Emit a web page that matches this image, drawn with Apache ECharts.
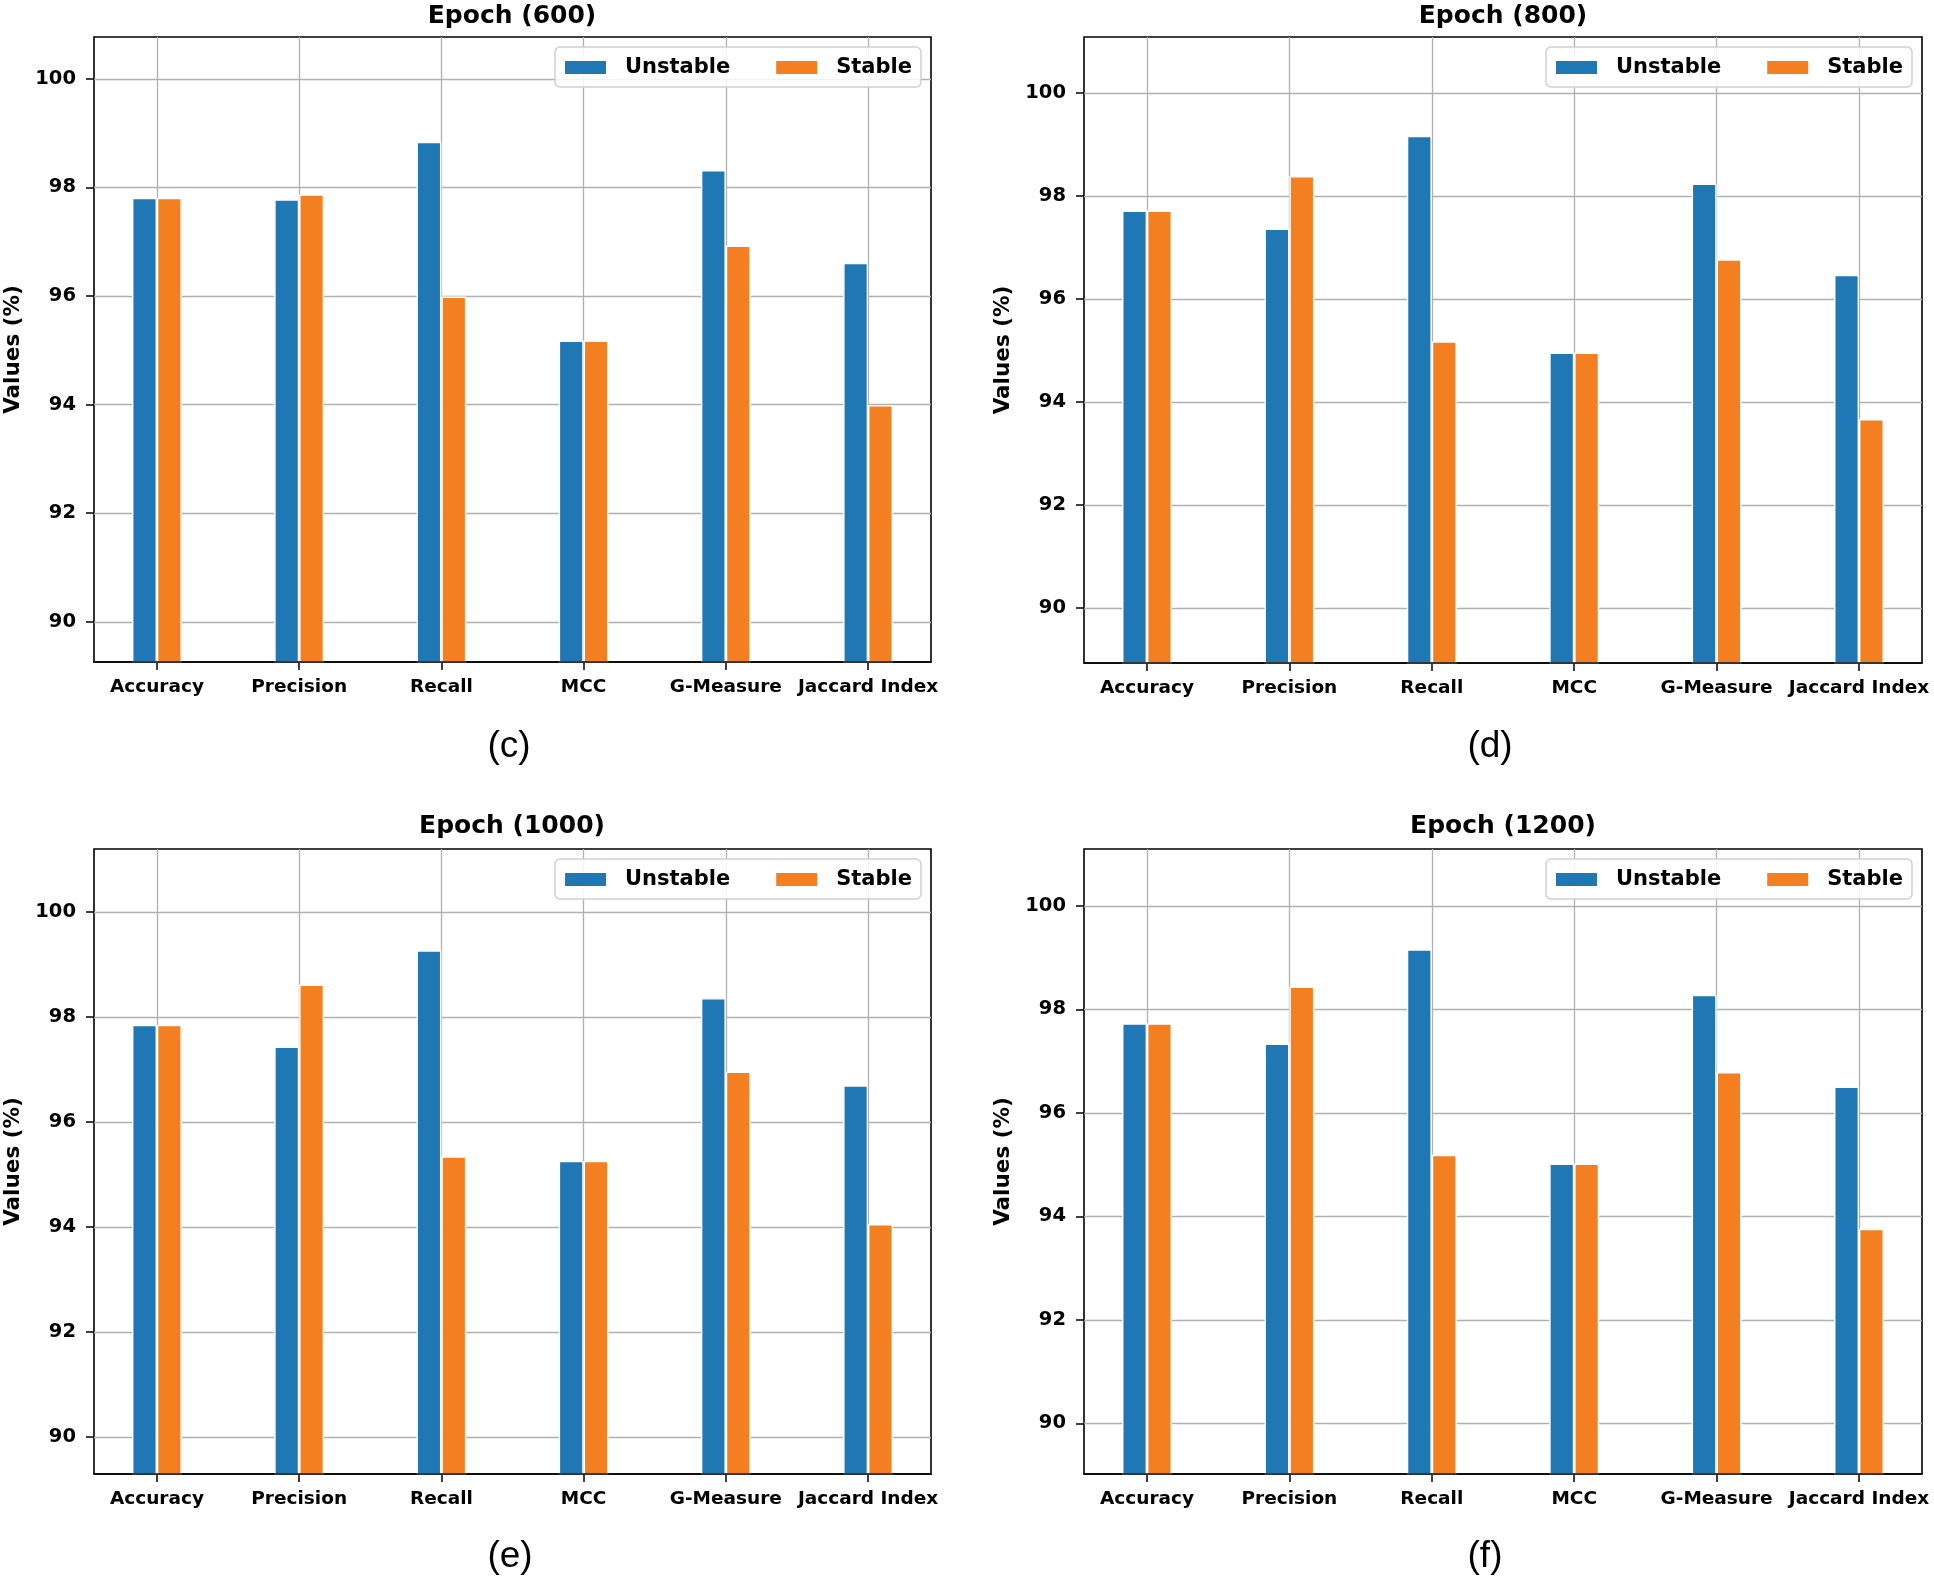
<!DOCTYPE html>
<html>
<head>
<meta charset="utf-8">
<script src="https://cdn.jsdelivr.net/npm/echarts@6/dist/echarts.min.js"></script>
<style>
html,body{margin:0;padding:0;background:#fff}
#c{width:1934px;height:1583px}
</style>
</head>
<body>
<div id="c"></div>
<script>
// ---------- data ----------
const categories = ['Accuracy', 'Precision', 'Recall', 'MCC', 'G-Measure', 'Jaccard Index'];
const seriesNames = ['Unstable', 'Stable'];
const panelTitles = ['Epoch (600)', 'Epoch (800)', 'Epoch (1000)', 'Epoch (1200)'];
const panelLetters = ['(c)', '(d)', '(e)', '(f)'];
const yTicks = [90, 92, 94, 96, 98, 100];
const yRanges = [[89.26, 100.77], [88.93, 101.09], [89.30, 101.20], [89.02, 101.10]];

const unstable600  = [97.81, 97.78, 98.84, 95.18, 98.32, 96.61];
const stable600    = [97.81, 97.87, 95.99, 95.18, 96.93, 93.99];
const unstable800  = [97.72, 97.37, 99.17, 94.96, 98.24, 96.47];
const stable800    = [97.72, 98.39, 95.18, 94.96, 96.77, 93.67];
const unstable1000 = [97.85, 97.44, 99.27, 95.26, 98.36, 96.70];
const stable1000   = [97.85, 98.62, 95.35, 95.26, 96.96, 94.06];
const unstable1200 = [97.73, 97.34, 99.16, 95.02, 98.28, 96.51];
const stable1200   = [97.73, 98.44, 95.19, 95.02, 96.79, 93.76];

const panelData = [
  [unstable600, stable600],
  [unstable800, stable800],
  [unstable1000, stable1000],
  [unstable1200, stable1200]
];

// ---------- layout / style ----------
const W = 1934;
const layout = [
  {left: 94,   top: 37,  width: 837, height: 625, titleX: 512,  titleY: 16,  letterX: 509,  letterY: 747},
  {left: 1084, top: 37,  width: 838, height: 626, titleX: 1503, titleY: 16,  letterX: 1490, letterY: 747},
  {left: 94,   top: 849, width: 837, height: 625, titleX: 512,  titleY: 826, letterX: 510,  letterY: 1557},
  {left: 1084, top: 849, width: 838, height: 625, titleX: 1503, titleY: 826, letterX: 1485, letterY: 1557}
];
const colors = ['#1f77b4', '#f47f20'];
const FONT = 'DejaVu Sans';
const barFrac = 0.175;
const catIdx = categories.map((_, i) => i);
const span = (categories.length - 1) + 2 * barFrac;
const xMin = -barFrac - 0.05 * span;
const xMax = (categories.length - 1) + barFrac + 0.05 * span;

const grids = [], xAxes = [], yAxes = [], series = [], legends = [], graphics = [];

layout.forEach((p, i) => {
  const [u, s] = panelData[i];
  const [yMin, yMax] = yRanges[i];

  grids.push({
    left: p.left, top: p.top, width: p.width, height: p.height,
    show: true, borderColor: '#000', borderWidth: 1.6, backgroundColor: 'transparent',
    containLabel: false, outerBoundsMode: 'none'
  });

  xAxes.push({
    gridIndex: i, type: 'value', min: xMin, max: xMax, position: 'bottom',
    axisLine: {show: false, onZero: false},
    axisTick: {show: true, customValues: catIdx, length: 8, lineStyle: {color: '#000', width: 1.5}},
    axisLabel: {
      customValues: catIdx, margin: 16,
      formatter: v => categories[Math.round(v)] || '',
      color: '#000', fontFamily: FONT, fontWeight: 'bold', fontSize: 18.5
    },
    splitLine: {show: true, lineStyle: {color: '#b0b0b0', width: 1.3}}
  });
  // frame line drawn above the bars
  xAxes.push({
    gridIndex: i, type: 'value', min: xMin, max: xMax, position: 'bottom', z: 10,
    axisLine: {show: true, onZero: false, lineStyle: {color: '#000', width: 1.6}},
    axisTick: {show: false}, axisLabel: {show: false}, splitLine: {show: false}
  });

  yAxes.push({
    gridIndex: i, type: 'value', min: yMin, max: yMax,
    name: 'Values (%)', nameLocation: 'middle', nameGap: 70,
    nameTextStyle: {color: '#000', fontFamily: FONT, fontWeight: 'bold', fontSize: 21.5},
    axisLine: {show: false, onZero: false},
    axisTick: {show: true, customValues: yTicks, length: 8, lineStyle: {color: '#000', width: 1.5}},
    axisLabel: {
      customValues: yTicks, margin: 18,
      color: '#000', fontFamily: FONT, fontWeight: 'bold', fontSize: 19.5
    },
    splitLine: {show: true, lineStyle: {color: '#b0b0b0', width: 1.3}}
  });

  [u, s].forEach((vals, k) => {
    series.push({
      type: 'bar', name: seriesNames[k],
      xAxisIndex: 2 * i, yAxisIndex: i,
      data: vals.map((v, j) => [catIdx[j], v]),
      barWidth: (barFrac * 100) + '%', barGap: '0%',
      clip: true,
      itemStyle: {color: colors[k], borderColor: '#ffffff', borderWidth: 1.4},
      emphasis: {disabled: true}
    });
  });

  legends.push({
    data: seriesNames, orient: 'horizontal',
    top: p.top + 10, right: W - (p.left + p.width) + 10,
    itemWidth: 43, itemHeight: 15, itemGap: 44,
    padding: [10, 9, 9, 8],
    borderColor: '#d0d0d0', borderWidth: 1.5, borderRadius: 5,
    backgroundColor: 'rgba(255,255,255,0.85)',
    icon: 'rect',
    selectedMode: false,
    textStyle: {color: '#000', fontFamily: FONT, fontWeight: 'bold', fontSize: 21, padding: [0, 0, 0, 13]}
  });

  graphics.push({
    type: 'text', x: p.titleX, y: p.titleY, z: 20,
    style: {text: panelTitles[i], align: 'center', verticalAlign: 'middle',
            fill: '#000', font: 'bold 25px "DejaVu Sans"'}
  });
  graphics.push({
    type: 'text', x: p.letterX, y: p.letterY, z: 20,
    style: {text: panelLetters[i], align: 'center', verticalAlign: 'middle',
            fill: '#000', font: '37px "Liberation Sans"'}
  });
});

const chart = echarts.init(document.getElementById('c'), null, {renderer: 'canvas', width: 1934, height: 1583});
chart.setOption({
  backgroundColor: '#ffffff',
  animation: false,
  grid: grids,
  xAxis: xAxes,
  yAxis: yAxes,
  legend: legends,
  series: series,
  graphic: graphics
});
</script>
</body>
</html>
